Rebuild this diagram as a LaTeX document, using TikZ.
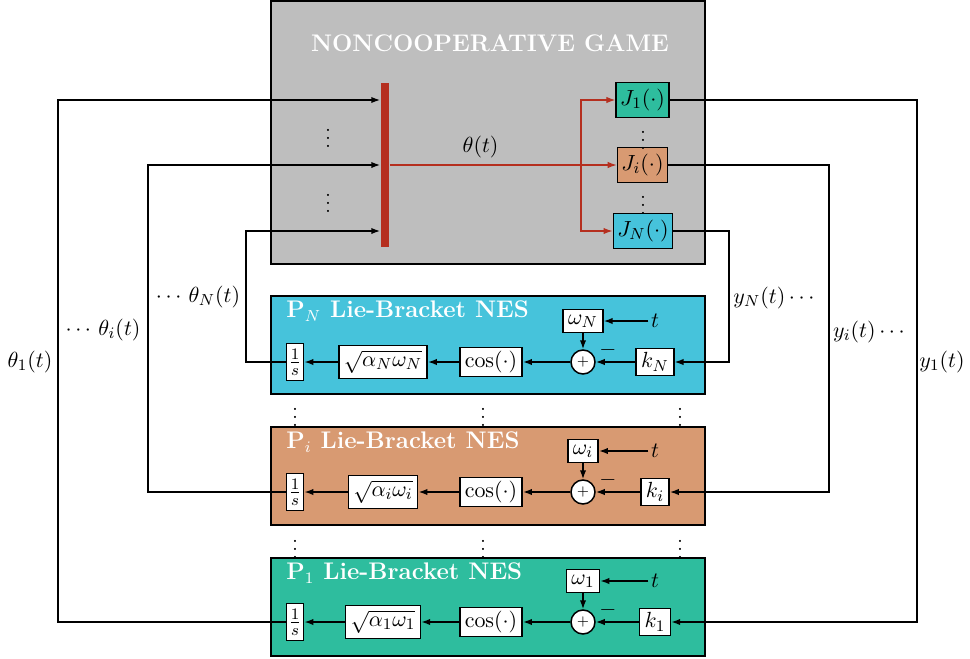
\documentclass[tikz,border=0pt]{standalone}
\usetikzlibrary{arrows.meta}
\definecolor{gamegray}{HTML}{BEBEBE}
\definecolor{barred}{HTML}{B52F1F}
\definecolor{pgreen}{HTML}{2EBD9E}
\definecolor{porange}{HTML}{D89A72}
\definecolor{pcyan}{HTML}{46C3DB}
\begin{document}
\begin{tikzpicture}[x=0.5pt,y=-0.5pt,
  font=\fontsize{11}{13}\selectfont,
  >={Latex[length=4.5pt,width=3.2pt]},
  line width=0.75pt,
  blk/.style={draw,fill=white,inner xsep=2.5pt,inner ysep=1pt},
  jbox/.style={draw,inner xsep=2pt,minimum height=16pt},
  panel/.style={draw,minimum width=217pt,minimum height=49pt,inner sep=0pt},
  ptitle/.style={text=white,font=\fontsize{12}{14}\selectfont\bfseries,anchor=west},
  lbl/.style={inner sep=1pt},
  vdot/.style={inner sep=0pt}]
\useasboundingbox (0,0) rectangle (970,659);

% game box
\node[draw,fill=gamegray,minimum width=217pt,minimum height=131.5pt,inner sep=0pt] (game) at (488,132.5) {};
\node[text=white,font=\fontsize{12}{14}\selectfont\bfseries] (gtitle) at (490,43) {NONCOOPERATIVE GAME};
\node[fill=barred,minimum width=4pt,minimum height=82pt,inner sep=0pt] (bar) at (385,165) {};
\node[jbox,fill=pgreen] (j1) at (642.5,100) {$J_1(\cdot)$};
\node[jbox,fill=porange] (ji) at (642.5,165) {$J_i(\cdot)$};
\node[jbox,fill=pcyan] (jN) at (643,231) {$J_N(\cdot)$};
\node[vdot] (gd1) at (328,132) {$\vdots$};
\node[vdot] (gd2) at (328,197) {$\vdots$};
\node[vdot] (jd1) at (643,134) {$\vdots$};
\node[vdot] (jd2) at (643,199) {$\vdots$};
\coordinate (split) at (581,165);
\draw[barred,line width=0.6pt,->] (bar.east |- ji) -- node[above,black,pos=0.4] (thlbl) {$\theta(t)$} (ji.west);
\draw[barred,line width=0.6pt,->] (split) |- (j1.west);
\draw[barred,line width=0.6pt,->] (split) |- (jN.west);

% panels
\foreach \p/\top/\row/\col/\lx/\rx/\jj in {N/296/362/pcyan/246/729/jN, i/427/492/porange/148/829/ji, 1/558/622/pgreen/58/917/j1}{
  \node[panel,fill=\col] (box\p) at (488,\top+49) {};
  \node[ptitle] (title\p) at (279,\top+15) {P$_{\p}$ Lie-Bracket NES};
  \node[blk,minimum height=11.5pt] (w\p) at (583,\row-41) {$\omega_{\p}$};
  \node[lbl] (t\p) at (655,\row-41) {$t$};
  \node[draw,fill=white,circle,minimum size=12pt,inner sep=0pt,font=\scriptsize] (s\p) at (583,\row) {$+$};
  \node[lbl] (m\p) at (608,\row-12) {$-$};
  \node[blk,minimum height=13.5pt] (k\p) at (655,\row) {$k_{\p}$};
  \node[blk,minimum height=14.5pt] (c\p) at (491,\row) {$\cos(\cdot)$};
  \node[blk,minimum height=16.5pt] (q\p) at (383,\row) {$\sqrt{\alpha_{\p}\omega_{\p}}$};
  \node[blk,inner xsep=1pt,minimum height=18.5pt] (int\p) at (295,\row) {$\frac{1}{s}$};
  \draw[->] (t\p) -- (w\p.east);
  \draw[->] (w\p.south) -- (s\p.north);
  \draw[->] (k\p.west) -- (s\p.east);
  \draw[->] (s\p.west) -- (c\p.east);
  \draw[->] (c\p.west) -- (q\p.east);
  \draw[->] (q\p.west) -- (int\p.east);
  \coordinate (L\p) at (\lx,0);
  \coordinate (R\p) at (\rx,0);
  \draw[->] (int\p.west) -| (L\p |- \jj) -- (bar.west |- \jj);
  \draw[->] (\jj.east) -| (R\p |- k\p) -- (k\p.east);
}

% dots between panels
\foreach \x/\n in {295/a,483/b,680/c}{
  \node[vdot] (da\n) at (\x,411) {$\vdots$};
  \node[vdot] (db\n) at (\x,543) {$\vdots$};
}

% signal labels
\node[lbl] (th1) at (30,362) {$\theta_1(t)$};
\node[lbl] (thi) at (103,330) {$\cdots\,\theta_i(t)$};
\node[lbl] (thN) at (198,297) {$\cdots\,\theta_N(t)$};
\node[lbl] (yN) at (774,298) {$y_N(t)\cdots$};
\node[lbl] (yi) at (869,332) {$y_i(t)\cdots$};
\node[lbl] (y1) at (942,362) {$y_1(t)$};
\end{tikzpicture}
\end{document}
